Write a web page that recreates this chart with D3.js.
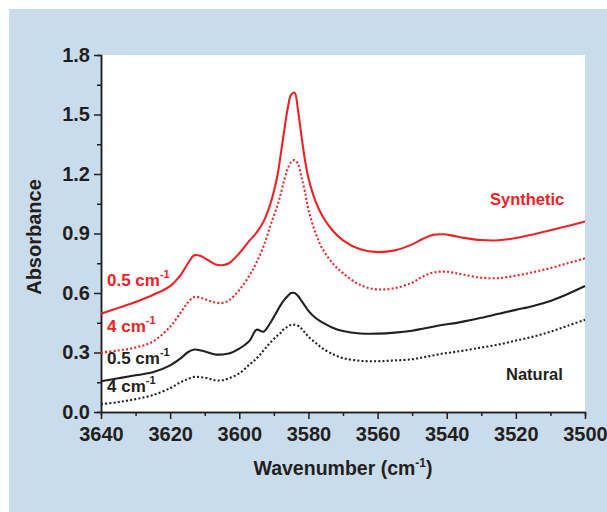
<!doctype html>
<html lang="en">
  <head>
    <meta charset="utf-8">
    <script src="https://cdnjs.cloudflare.com/ajax/libs/d3/7.8.5/d3.min.js"></script>
    <style>
      body { margin: 0; background: #fff; }
      svg text { font-family: "Liberation Sans", Arial, sans-serif; font-weight: bold; }
      .axis path, .axis line { stroke: #231f20; stroke-width: 1.5; }
      .axis text { font-size: 20px; fill: #231f20; }
    </style>
    <title>Absorbance spectra</title>
  </head>
  <body>
    <div id="chart"></div>
    <script>
      // wavenumber grid shared by all four spectra (cm-1)
      var wavenumbers = [3640, 3635, 3630, 3625, 3620, 3617, 3615, 3613, 3611, 3609, 3607, 3605, 3603, 3600,
        3597, 3595, 3593, 3591, 3589, 3588, 3587, 3586, 3585, 3584, 3583, 3582, 3581, 3580, 3578, 3576,
        3573, 3570, 3565, 3560, 3555, 3550, 3547, 3544, 3541, 3538, 3535, 3530, 3525, 3520, 3515, 3510, 3505, 3500];

      var synthetic05 = [0.495, 0.525, 0.555, 0.59, 0.635, 0.69, 0.745, 0.79, 0.785, 0.765, 0.745, 0.74, 0.75, 0.80,
        0.865, 0.905, 0.96, 1.05, 1.19, 1.30, 1.42, 1.53, 1.60, 1.61, 1.52, 1.39, 1.27, 1.18, 1.065, 0.99,
        0.915, 0.865, 0.82, 0.806, 0.815, 0.845, 0.872, 0.893, 0.896, 0.888, 0.878, 0.867, 0.866, 0.877, 0.895, 0.916, 0.938, 0.96];

      var synthetic4 = [0.30, 0.31, 0.325, 0.355, 0.43, 0.50, 0.55, 0.58, 0.575, 0.563, 0.552, 0.55, 0.563, 0.615,
        0.69, 0.755, 0.835, 0.94, 1.04, 1.10, 1.17, 1.225, 1.26, 1.27, 1.25, 1.185, 1.11, 1.02, 0.905, 0.825,
        0.75, 0.70, 0.64, 0.618, 0.625, 0.652, 0.682, 0.703, 0.708, 0.702, 0.692, 0.677, 0.675, 0.688, 0.705, 0.726, 0.75, 0.775];

      var natural05 = [0.155, 0.17, 0.185, 0.20, 0.235, 0.27, 0.30, 0.315, 0.31, 0.30, 0.29, 0.29, 0.295, 0.32,
        0.36, 0.415, 0.405, 0.45, 0.51, 0.54, 0.565, 0.585, 0.60, 0.60, 0.585, 0.56, 0.535, 0.51, 0.475, 0.452,
        0.425, 0.408, 0.396, 0.395, 0.40, 0.41, 0.42, 0.43, 0.44, 0.447, 0.457, 0.475, 0.495, 0.515, 0.535, 0.56, 0.595, 0.635];

      var natural4 = [0.04, 0.05, 0.065, 0.085, 0.12, 0.15, 0.165, 0.177, 0.175, 0.17, 0.16, 0.16, 0.17, 0.195,
        0.24, 0.27, 0.31, 0.35, 0.385, 0.40, 0.42, 0.43, 0.44, 0.44, 0.435, 0.42, 0.40, 0.38, 0.35, 0.322,
        0.292, 0.272, 0.258, 0.256, 0.26, 0.266, 0.275, 0.285, 0.295, 0.302, 0.31, 0.325, 0.34, 0.36, 0.38, 0.405, 0.435, 0.465];

      var xTicks = [3640, 3620, 3600, 3580, 3560, 3540, 3520, 3500];
      var yTicks = [0.0, 0.3, 0.6, 0.9, 1.2, 1.5, 1.8];

      var red = "#ec2227", black = "#231f20";

      var series = [
        { values: synthetic05, color: red, dotted: false },
        { values: synthetic4, color: red, dotted: true },
        { values: natural05, color: black, dotted: false },
        { values: natural4, color: black, dotted: true }
      ];

      var width = 607, height = 512;
      var margin = { top: 55, right: 22, bottom: 100, left: 101 };
      var w = width - margin.left - margin.right;
      var h = height - margin.top - margin.bottom;

      var svg = d3.select("#chart").append("svg")
          .attr("width", width)
          .attr("height", height);

      // blue panel behind the plot
      svg.append("rect")
          .attr("x", 9).attr("y", 9)
          .attr("width", width - 9).attr("height", height - 9)
          .attr("fill", "#c9dcec");

      var g = svg.append("g")
          .attr("transform", "translate(" + margin.left + "," + margin.top + ")");

      g.append("rect")
          .attr("width", w).attr("height", h)
          .attr("fill", "#fff");

      var x = d3.scaleLinear().domain([3640, 3500]).range([0, w]);
      var y = d3.scaleLinear().domain([0, 1.8]).range([h, 0]);

      // minor ticks first, then the labelled axes on top
      g.append("g")
          .attr("class", "axis")
          .attr("transform", "translate(0," + h + ")")
          .call(d3.axisBottom(x).tickValues(d3.range(3630, 3500, -20)).tickSize(4).tickFormat(""));
      g.append("g")
          .attr("class", "axis")
          .call(d3.axisLeft(y).tickValues(d3.range(0.15, 1.8, 0.3)).tickSize(4).tickFormat(""));

      g.append("g")
          .attr("class", "axis")
          .attr("transform", "translate(0," + h + ")")
          .call(d3.axisBottom(x).tickValues(xTicks).tickSize(7).tickSizeOuter(0).tickPadding(8).tickFormat(d3.format("d")));
      g.append("g")
          .attr("class", "axis")
          .call(d3.axisLeft(y).tickValues(yTicks).tickSize(7).tickSizeOuter(0).tickPadding(4).tickFormat(d3.format(".1f")));

      var line = d3.line()
          .x(function(d, i) { return x(wavenumbers[i]); })
          .y(function(d) { return y(d); })
          .curve(d3.curveCatmullRom.alpha(0.5));

      series.forEach(function(s) {
        g.append("path")
            .datum(s.values)
            .attr("fill", "none")
            .attr("stroke", s.color)
            .attr("stroke-width", 2.1)
            .attr("stroke-dasharray", s.dotted ? "2,2.2" : null)
            .attr("d", line);
      });

      // text with a superscript "-1"
      function supLabel(sel, xPos, yPos, main, size, color) {
        var t = sel.append("text")
            .attr("x", xPos).attr("y", yPos)
            .attr("font-size", size)
            .attr("fill", color);
        t.append("tspan").text(main);
        t.append("tspan").attr("font-size", Math.round(size * 0.62)).attr("dy", -size * 0.45).text("-1");
        return t;
      }

      supLabel(svg, 107, 286, "0.5 cm", 17, red);
      supLabel(svg, 107, 332, "4 cm", 17, red);
      supLabel(svg, 107, 364, "0.5 cm", 17, black);
      supLabel(svg, 107, 392, "4 cm", 17, black);

      svg.append("text")
          .attr("x", 490).attr("y", 205)
          .attr("font-size", 16.5)
          .attr("fill", red)
          .text("Synthetic");
      svg.append("text")
          .attr("x", 506).attr("y", 380)
          .attr("font-size", 16.5)
          .attr("fill", black)
          .text("Natural");

      // axis titles
      var xt = svg.append("text")
          .attr("x", 343).attr("y", 475)
          .attr("font-size", 19.5)
          .attr("fill", black)
          .attr("text-anchor", "middle");
      xt.append("tspan").text("Wavenumber (cm");
      xt.append("tspan").attr("font-size", 12).attr("dy", -8).text("-1");
      xt.append("tspan").attr("dy", 8).text(")");

      svg.append("text")
          .attr("transform", "translate(41,237) rotate(-90)")
          .attr("font-size", 20)
          .attr("fill", black)
          .attr("text-anchor", "middle")
          .text("Absorbance");
    </script>
  </body>
</html>
